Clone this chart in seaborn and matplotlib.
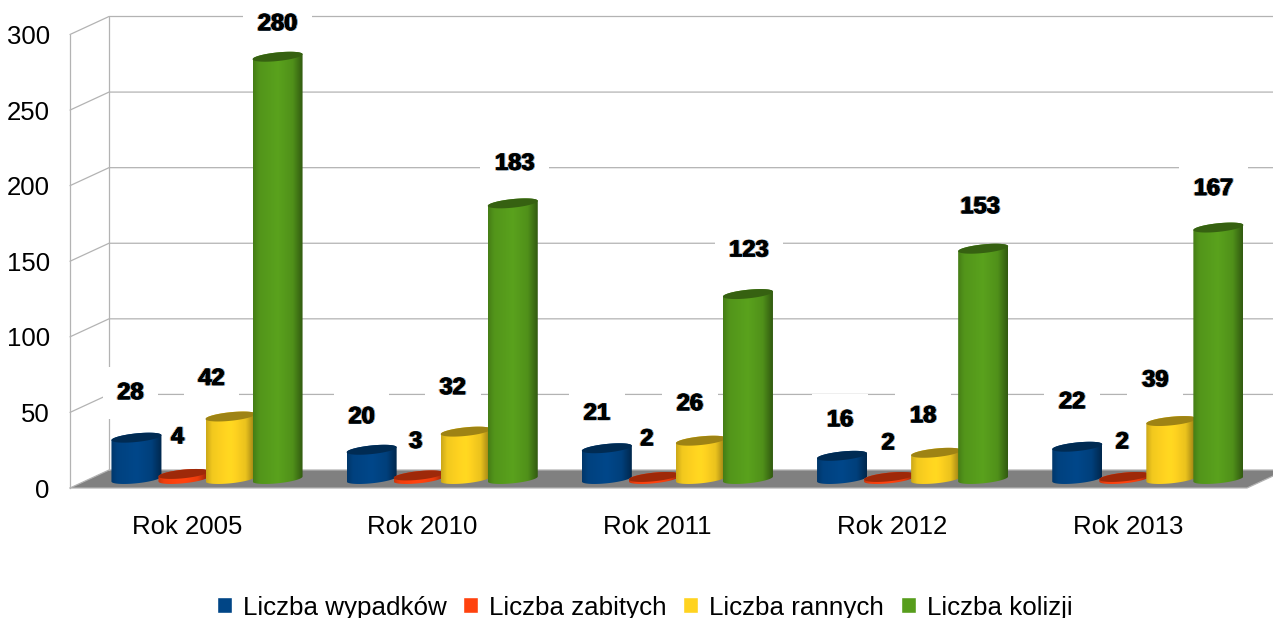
import numpy as np
import pandas as pd
import matplotlib
matplotlib.use('Agg')
import matplotlib.pyplot as plt
import matplotlib.patheffects as pe
from matplotlib.colors import to_rgb
from matplotlib.path import Path
from matplotlib.transforms import Affine2D
import seaborn as sns

years = ['Rok 2005', 'Rok 2010', 'Rok 2011', 'Rok 2012', 'Rok 2013']
wypadki = [28, 20, 21, 16, 22]
zabici = [4, 3, 2, 2, 2]
ranni = [42, 32, 26, 18, 39]
kolizje = [280, 183, 123, 153, 167]
series = ['Liczba wypadków', 'Liczba zabitych', 'Liczba rannych', 'Liczba kolizji']
colors = ['#004586', '#ff420e', '#ffd320', '#579d1c']
y_ticks = [0, 50, 100, 150, 200, 250, 300]

# label shifts from the top of each bar, in pixels (dx, dy up)
label_nudge = [
    [(-6, 45), (-10, 33), (-10, 35), (-2, 36), (-5, 45)],
    [(-6, 37), (-3, 34), (-7, 38), (-1, 34), (-2, 35)],
    [(-19, 38), (-13, 44), (-11, 37), (-13, 37), (-16, 41)],
    [(0, 33), (2, 40), (1, 44), (-3, 42), (-5, 39)],
]

W, H = 1273, 618
GROUP_PX = 235.2
FIRST_GROUP_PX = 207
Y_BASE_PX = 480
Y_PX = 453.5 / 300  # pixels per unit
FRONT_X, BACK_X = 70, 109
FRONT_Y, BACK_Y = 488, 470
GRID = '#b3b3b3'

sns.set_theme(style='white')
plt.rcParams['font.family'] = ['Liberation Sans', 'DejaVu Sans']
plt.rcParams['text.color'] = 'black'

df = pd.DataFrame({'rok': years, series[0]: wypadki, series[1]: zabici,
                   series[2]: ranni, series[3]: kolizje})
df = df.melt(id_vars='rok', var_name='seria', value_name='liczba')

fig = plt.figure(figsize=(W / 100, H / 100), dpi=100, facecolor='white')
px = Affine2D().scale(1, -1).translate(0, H)  # image pixels, origin top left

# front axis with the value labels
ax_front = fig.add_axes([FRONT_X / W, (H - FRONT_Y) / H, 1 / W, 453.5 / H])
ax_front.set_ylim(0, 300)
ax_front.set_yticks(y_ticks)
ax_front.set_xticks([])
ax_front.tick_params(axis='y', length=0, pad=14.5, labelsize=18.5, labelcolor='black')
for name, spine in ax_front.spines.items():
    spine.set_visible(name == 'left')
ax_front.spines['left'].set_color(GRID)
ax_front.spines['left'].set_linewidth(0.9)
ax_front.patch.set_visible(False)

# main axes, y=0 sits on the base line of the cylinders
ax = fig.add_axes([0, (H - Y_BASE_PX) / H, 1, 453.5 / H])
sns.barplot(data=df, x='rok', y='liczba', hue='seria', palette=colors, width=0.8,
            saturation=1, ax=ax, legend=True)
ax.set_xlim(-FIRST_GROUP_PX / GROUP_PX, (W - FIRST_GROUP_PX) / GROUP_PX)
ax.set_ylim(0, 300)
ax.patch.set_visible(False)
ax.set_xlabel('')
ax.set_ylabel('')
ax.set_yticks([])
sns.despine(ax=ax, left=True, bottom=True)
ax.tick_params(axis='x', length=0, pad=25, labelsize=18.5, labelcolor='black')
for lab in ax.get_xticklabels():
    lab.set_transform(lab.get_transform() + Affine2D().translate(-20, 0))

# floor and back wall
ax.fill([FRONT_X, BACK_X, W, W, 1247], [FRONT_Y, BACK_Y, BACK_Y, 476, FRONT_Y], color='#808080',
        lw=0, transform=px, zorder=1, clip_on=False)
ax.plot([FRONT_X, 1247, W], [FRONT_Y, FRONT_Y, 476], color=GRID, lw=0.9, transform=px, zorder=1.1, clip_on=False)
for v in y_ticks:
    yf = FRONT_Y - v * Y_PX
    yb = BACK_Y - v * Y_PX
    ax.plot([FRONT_X, BACK_X, W], [yf, yb, yb], color=GRID, lw=0.9, transform=px, zorder=1, clip_on=False)
ax.plot([BACK_X, BACK_X], [BACK_Y, BACK_Y - 300 * Y_PX], color=GRID, lw=0.9, transform=px, zorder=1, clip_on=False)

# cylinders on top of the seaborn bars
A = 25 / GROUP_PX
B = 4.3 / Y_PX
S = 2.5 / Y_PX
LIFT = 1 / Y_PX  # bottoms sit a pixel higher than the tops would suggest
shade = np.interp(np.linspace(0, 1, 64), [0, 0.12, 0.5, 0.8, 1], [0.8, 0.95, 1.03, 0.92, 0.58])
fringe = [pe.Stroke(linewidth=0.7, foreground='#f0a050', offset=(-0.7, 0)),
          pe.Stroke(linewidth=0.7, foreground='#4a9be0', offset=(0.7, 0)),
          pe.Stroke(linewidth=0.4, foreground='black'),
          pe.Normal()]

for i, bars in enumerate(ax.containers):
    rgb = np.array(to_rgb(colors[i]))
    grad = np.clip(shade[None, :, None] * rgb, 0, 1)
    for j, bar in enumerate(bars):
        cx = bar.get_x() + bar.get_width() / 2
        value = int(bar.get_height())
        bar.set_visible(False)
        t_low = np.linspace(np.pi, 2 * np.pi, 40)
        t_up = np.linspace(0, np.pi, 40)
        xs = np.r_[cx + A * np.cos(t_low), cx + A * np.cos(t_up)]
        ys = np.r_[LIFT + B * np.sin(t_low) + S * np.cos(t_low), value + B * np.sin(t_up) + S * np.cos(t_up)]
        body = Path(np.c_[xs, ys], closed=False)
        z = 3 + i
        im = ax.imshow(grad, extent=(cx - A, cx + A, -10, value + 10), aspect='auto', zorder=z)
        im.set_clip_path(body, transform=ax.transData)
        im.set_clip_box(fig.bbox)
        t = np.linspace(0, 2 * np.pi, 80)
        ax.fill(cx + A * np.cos(t), value + B * np.sin(t) + S * np.cos(t), color=rgb * 0.62, lw=0,
                zorder=z + 0.1, clip_on=False)

        dx, dy = label_nudge[i][j]
        xy_off = (dx * 0.72, dy * 0.72)
        kw = dict(xy=(cx, value), xytext=xy_off, textcoords='offset points', ha='center', va='center',
                  fontsize=17, fontweight='bold', annotation_clip=False)
        ax.annotate(str(value), color='none', zorder=2,
                    bbox=dict(boxstyle='square,pad=0.62', fc='white', ec='none'), **kw)
        ax.annotate(str(value), color='black', zorder=10, path_effects=fringe, **kw)
ax.set_xlim(-FIRST_GROUP_PX / GROUP_PX, (W - FIRST_GROUP_PX) / GROUP_PX)
ax.set_ylim(0, 300)

sns.move_legend(ax, 'center', bbox_to_anchor=(644.5 / W, (H - 607.5) / H), bbox_transform=fig.transFigure,
                ncol=4, frameon=False, title=None, fontsize=18.7, handlelength=0.58, handleheight=0.58,
                handletextpad=0.42, columnspacing=0.64, borderpad=0, borderaxespad=0)

fig.savefig('out.png', dpi=100)
